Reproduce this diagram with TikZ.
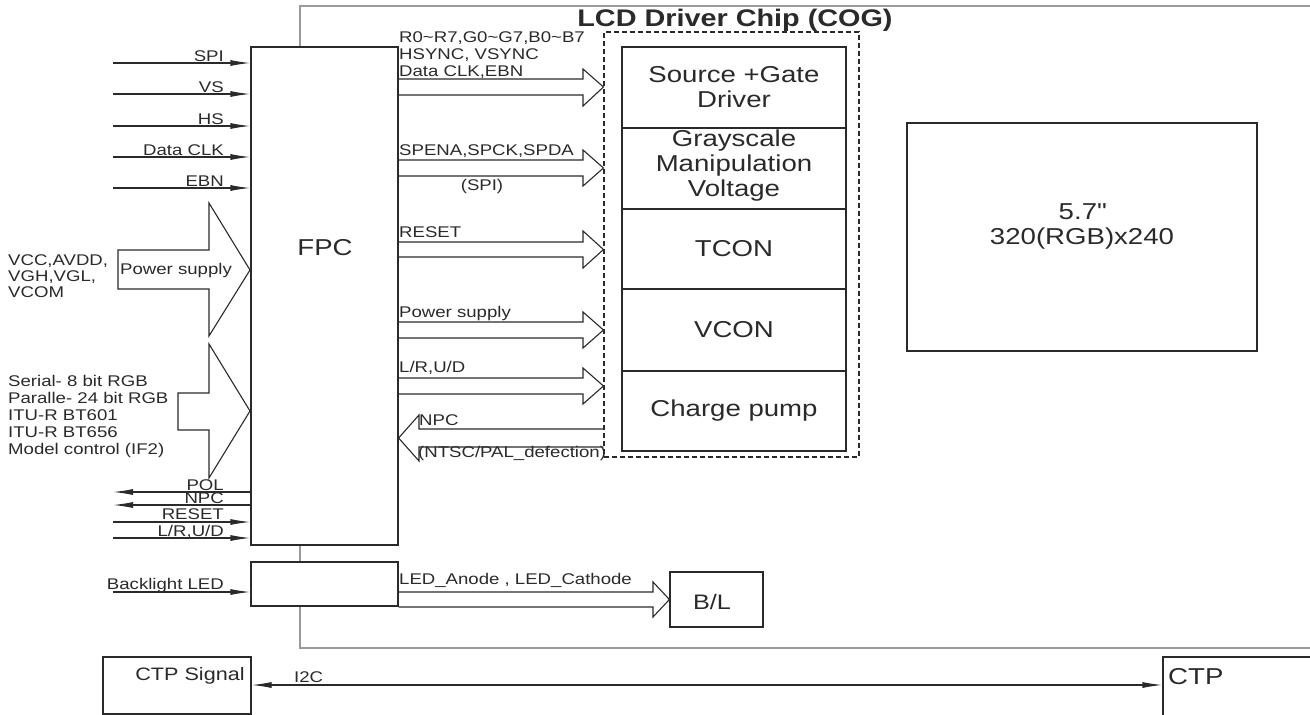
\documentclass[tikz,border=0pt]{standalone}
\usepackage{fontspec}
\setmainfont{Liberation Sans}[FakeStretch=1.2]
\usetikzlibrary{arrows.meta}
\definecolor{ink}{HTML}{2A2A2A}
\definecolor{frame}{HTML}{9A9A9A}
\begin{document}
\begin{tikzpicture}[x=1pt, y=-1pt, >={Latex[length=20pt,width=6pt]},
  line/.style={draw=ink, line width=1.2pt},
  blk/.style={draw=ink, line width=1.2pt, fill=white, inner sep=0pt},
  hollow/.style={draw=ink, line width=1.1pt},
  lbl/.style={inner sep=0pt, text=ink, font=\fontsize{15.5}{17}\selectfont, align=left},
  big/.style={inner sep=0pt, text=ink, font=\fontsize{23}{25}\selectfont, align=center}]
\clip (0,0) rectangle (1310,715);
\fill[white] (0,0) rectangle (1310,715);
% chip outline
\draw[frame, line width=2pt] (1310,6) -- (300,6) -- (300,648) -- (1310,648);
\node[inner sep=0pt, text=ink, font=\bfseries\fontsize{24}{26}\selectfont] (title) at (735,20) {LCD Driver Chip (COG)};
% boxes
\node[blk, minimum width=147pt, minimum height=498pt] (fpc) at (324.5,296) {};
\node[big] (fpclbl) at (325,248) {FPC};
\node[blk, minimum width=147pt, minimum height=44pt] (led) at (324.5,584) {};
\node[draw=ink, dashed, dash pattern=on 5pt off 3pt, line width=1.1pt, minimum width=255pt, minimum height=425pt, inner sep=0pt] (chip) at (731.5,244.5) {};
\node[blk, minimum width=224pt, minimum height=81pt] (src) at (734,87.5) {};
\node[big] at (734,87.5) {Source +Gate\\Driver};
\node[blk, minimum width=224pt, minimum height=81pt] (gray) at (734,168.5) {};
\node[big] at (734,166) {Grayscale\\Manipulation\\Voltage};
\node[blk, minimum width=224pt, minimum height=80pt] (tcon) at (734,249) {};
\node[big] at (734,249) {TCON};
\node[blk, minimum width=224pt, minimum height=82pt] (vcon) at (734,330) {};
\node[big] at (734,330) {VCON};
\node[blk, minimum width=224pt, minimum height=80pt] (pump) at (734,411) {};
\node[big] at (734,411) {Charge pump};
\node[blk, minimum width=350pt, minimum height=228pt] (lcd) at (1082,237) {};
\node[big] at (1082,226) {5.7\textquotedbl\\320(RGB)x240};
\node[blk, minimum width=93pt, minimum height=55pt] (bl) at (716.5,599.5) {};
\node[big, font=\fontsize{21}{23}\selectfont] at (712,602) {B/L};
\node[blk, minimum width=148pt, minimum height=57pt] (ctps) at (177,685.5) {};
\node[lbl, font=\fontsize{18}{20}\selectfont] at (190,676) {CTP Signal};
\node[blk, minimum width=170pt, minimum height=70pt] (ctp) at (1248,692) {};
\node[big, anchor=west] at (1168,677) {CTP};
% inputs on the left
\draw[line,->] (113,63) -- (fpc.west |- 0,63);
\node[lbl, anchor=base east] at (224,61) {SPI};
\draw[line,->] (113,94) -- (fpc.west |- 0,94);
\node[lbl, anchor=base east] at (224,92) {VS};
\draw[line,->] (113,126) -- (fpc.west |- 0,126);
\node[lbl, anchor=base east] at (224,124) {HS};
\draw[line,->] (113,157) -- (fpc.west |- 0,157);
\node[lbl, anchor=base east] at (224,155) {Data CLK};
\draw[line,->] (113,188) -- (fpc.west |- 0,188);
\node[lbl, anchor=base east] at (224,186) {EBN};
\draw[hollow, fill=white] (118,250) -- (209,250) -- (209,203) -- (250,270) -- (209,336) -- (209,289) -- (118,289) -- cycle;
\node[lbl, anchor=west] at (120,270) {Power supply};
\node[lbl, anchor=west, font=\fontsize{15.5}{16}\selectfont] at (8,276) {VCC,AVDD,\\VGH,VGL,\\VCOM};
\draw[hollow, fill=white] (178,393) -- (209,393) -- (209,344) -- (250,411) -- (209,478) -- (209,430) -- (178,430) -- cycle;
\node[lbl, anchor=west] at (8,416) {Serial- 8 bit RGB\\Paralle- 24 bit RGB\\ITU-R BT601\\ITU-R BT656\\Model control (IF2)};
\draw[line,<-] (113,492) -- (fpc.west |- 0,492);
\node[lbl, anchor=base east] at (224,490) {POL};
\draw[line,<-] (113,505) -- (fpc.west |- 0,505);
\node[lbl, anchor=base east] at (224,503) {NPC};
\draw[line,->] (113,522) -- (fpc.west |- 0,522);
\node[lbl, anchor=base east] at (224,519) {RESET};
\draw[line,->] (113,538) -- (fpc.west |- 0,538);
\node[lbl, anchor=base east] at (224,536) {L/R,U/D};
\draw[line,->] (113,592) -- (led.west |- 0,592);
\node[lbl, anchor=base east] at (224,589) {Backlight LED};
% buses from the FPC to the chip
\draw[hollow] (fpc.east |- 0,79) -- (583,79) -- (583,69) -- (chip.west |- 0,87) -- (583,106) -- (583,95) -- (fpc.east |- 0,95);
\node[lbl, anchor=west] at (399,55) {R0\textasciitilde R7,G0\textasciitilde G7,B0\textasciitilde B7\\HSYNC, VSYNC\\Data CLK,EBN};
\draw[hollow] (fpc.east |- 0,160) -- (583,160) -- (583,150) -- (chip.west |- 0,168) -- (583,186) -- (583,176) -- (fpc.east |- 0,176);
\node[lbl, anchor=west] at (399,151) {SPENA,SPCK,SPDA};
\node[lbl] at (482,186) {(SPI)};
\draw[hollow] (fpc.east |- 0,242) -- (583,242) -- (583,231) -- (chip.west |- 0,249.5) -- (583,268) -- (583,257) -- (fpc.east |- 0,257);
\node[lbl, anchor=west] at (399,232) {RESET};
\draw[hollow] (fpc.east |- 0,322) -- (583,322) -- (583,312) -- (chip.west |- 0,330) -- (583,348) -- (583,338) -- (fpc.east |- 0,338);
\node[lbl, anchor=west] at (399,313) {Power supply};
\draw[hollow] (fpc.east |- 0,378) -- (583,378) -- (583,368) -- (chip.west |- 0,386) -- (583,404) -- (583,394) -- (fpc.east |- 0,394);
\node[lbl, anchor=west] at (399,368) {L/R,U/D};
\draw[hollow] (chip.west |- 0,429) -- (419,429) -- (419,415) -- (fpc.east |- 0,438) -- (419,461) -- (419,447) -- (chip.west |- 0,447);
\node[lbl, anchor=west] at (419,420) {NPC};
\node[lbl, anchor=west] at (418,453) {(NTSC/PAL\_defection)};
\draw[hollow] (led.east |- 0,592) -- (653,592) -- (653,582) -- (bl.west) -- (653,617) -- (653,607) -- (led.east |- 0,607);
\node[lbl, anchor=west] at (399,580) {LED\_Anode , LED\_Cathode};
% touch panel
\draw[line,<->] (ctps.east |- 0,685) -- (ctp.west |- 0,685);
\node[lbl, anchor=west] at (294,677) {I2C};
\end{tikzpicture}
\end{document}
